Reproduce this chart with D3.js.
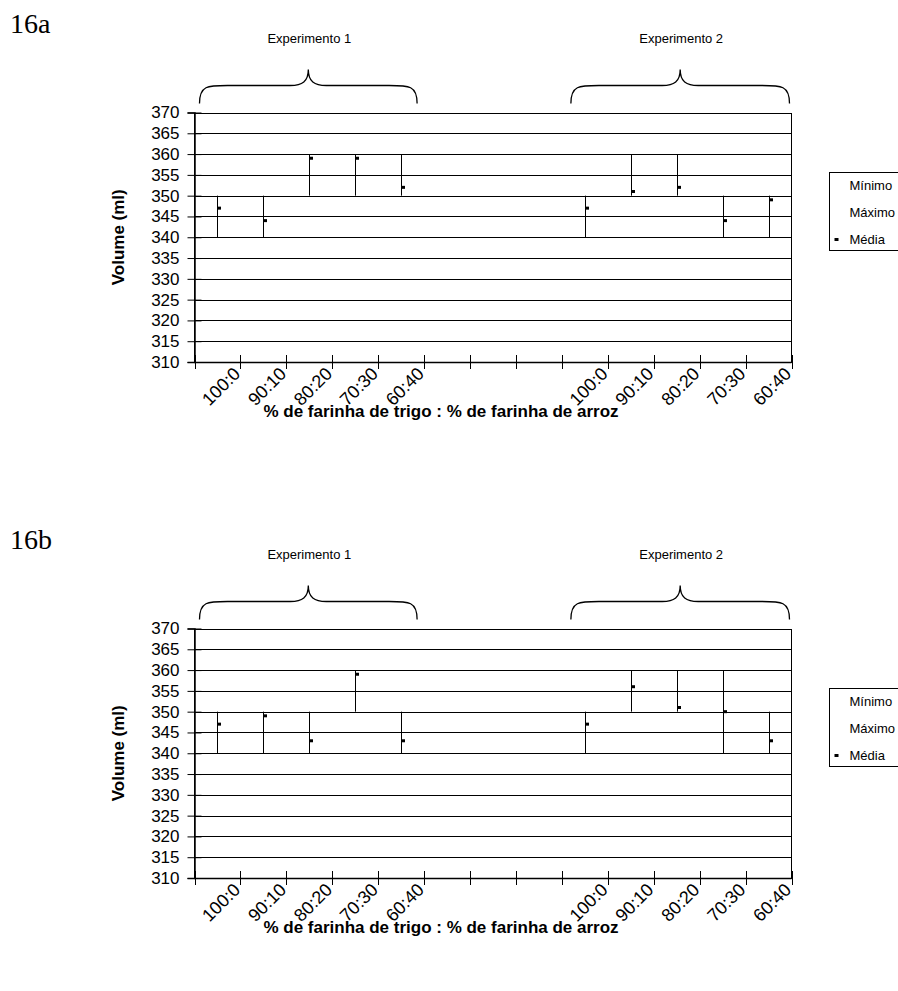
<!DOCTYPE html>
<html>
<head>
<meta charset="utf-8">
<script src="https://cdn.jsdelivr.net/npm/d3@7"></script>
<style>
  body { margin: 0; background: #fff; }
  svg { display: block; }
  text { font-family: "Liberation Sans", Arial, sans-serif; fill: #000; }
</style>
</head>
<body>
<svg id="chart" width="898" height="991"></svg>
<script>
// ---- data ----
const categories = ["100:0", "90:10", "80:20", "70:30", "60:40", "", "", "",
                    "100:0", "90:10", "80:20", "70:30", "60:40"];
const yTicks = [310, 315, 320, 325, 330, 335, 340, 345, 350, 355, 360, 365, 370];
const groups = ["Experimento 1", "Experimento 2"];
const legendLabels = ["Mínimo", "Máximo", "Média"];

const minA  = [340, 340, 350, 350, 350, null, null, null, 340, 350, 350, 340, 340];
const maxA  = [350, 350, 360, 360, 360, null, null, null, 350, 360, 360, 350, 350];
const meanA = [347, 344, 359, 359, 352, null, null, null, 347, 351, 352, 344, 349];

const minB  = [340, 340, 340, 350, 340, null, null, null, 340, 350, 350, 340, 340];
const maxB  = [350, 350, 350, 360, 350, null, null, null, 350, 360, 360, 360, 350];
const meanB = [347, 349, 343, 359, 343, null, null, null, 347, 356, 351, 350, 343];

const panels = [
  { name: "16a", min: minA, max: maxA, mean: meanA, top: 112.5 },
  { name: "16b", min: minB, max: maxB, mean: meanB, top: 628.5 }
];

// ---- drawing ----
const svg = d3.select("#chart");
svg.append("rect").attr("width", 898).attr("height", 991).attr("fill", "#fff");

const left = 194.5, right = 791.5, plotH = 249.5;
const idx = categories.map((d, i) => i);
const x = d3.scaleBand().domain(idx).range([left, right]).padding(0);

panels.forEach(p => {
  const g = svg.append("g");
  const y = d3.scaleLinear().domain([310, 370]).range([p.top + plotH, p.top]);
  const bottom = p.top + plotH;

  // panel tag
  g.append("text").attr("x", 10).attr("y", p.top - 80)
    .style("font-family", "'Liberation Serif', 'Times New Roman', serif")
    .style("font-size", "28px").text(p.name);

  // gridlines
  g.append("g").selectAll("line").data(yTicks).join("line")
    .attr("x1", left).attr("x2", right)
    .attr("y1", d => Math.round(y(d)) + 0.5).attr("y2", d => Math.round(y(d)) + 0.5)
    .attr("stroke", "#000").attr("stroke-width", 1);

  // plot border
  g.append("rect").attr("x", left).attr("y", Math.round(p.top) + 0.5)
    .attr("width", right - left).attr("height", Math.round(bottom) - Math.round(p.top))
    .attr("fill", "none").attr("stroke", "#000").attr("stroke-width", 1);

  // y axis
  const yAxis = d3.axisLeft(y).tickValues(yTicks).tickSize(7).tickPadding(7)
    .tickFormat(d3.format("d"));
  const ya = g.append("g").attr("transform", `translate(${left},0)`).call(yAxis);
  ya.select(".domain").attr("stroke", "#000").attr("stroke-width", 1.5);
  ya.selectAll(".tick line").attr("x2", -7).attr("x1", 7).attr("stroke", "#000");
  ya.selectAll(".tick text").style("font-family", "'Liberation Sans', Arial, sans-serif")
    .style("font-size", "17px").attr("fill", "#000").attr("x", -15);

  // x axis with boundary ticks
  const bounds = d3.range(categories.length + 1).map(i => left + i * x.bandwidth());
  g.append("line").attr("x1", left).attr("x2", right)
    .attr("y1", Math.round(bottom) + 0.5).attr("y2", Math.round(bottom) + 0.5)
    .attr("stroke", "#000").attr("stroke-width", 1.5);
  g.append("g").selectAll("line").data(bounds).join("line")
    .attr("x1", d => Math.round(d) + 0.5).attr("x2", d => Math.round(d) + 0.5)
    .attr("y1", bottom - 7).attr("y2", bottom + 7)
    .attr("stroke", "#000");

  // x tick labels
  g.append("g").selectAll("text").data(idx.filter(i => categories[i] !== "")).join("text")
    .attr("transform", i => `translate(${x(i) + x.bandwidth() / 2 + 15},${bottom + 4}) rotate(-45)`)
    .attr("text-anchor", "end").attr("dy", "0.7em")
    .style("font-size", "18px").text(i => categories[i]);

  // axis titles
  g.append("text").attr("transform", `translate(124,${p.top + plotH / 2}) rotate(-90)`)
    .attr("text-anchor", "middle").style("font-size", "17px").style("font-weight", "bold")
    .text("Volume (ml)");
  g.append("text").attr("x", 441).attr("y", bottom + 55).attr("text-anchor", "middle")
    .style("font-size", "17px").style("font-weight", "bold")
    .text("% de farinha de trigo : % de farinha de arroz");

  // hi-lo lines
  const valid = idx.filter(i => p.min[i] != null);
  g.append("g").selectAll("line").data(valid).join("line")
    .attr("x1", i => Math.round(x(i) + x.bandwidth() / 2) + 0.5)
    .attr("x2", i => Math.round(x(i) + x.bandwidth() / 2) + 0.5)
    .attr("y1", i => y(p.min[i])).attr("y2", i => y(p.max[i]))
    .attr("stroke", "#000").attr("stroke-width", 1);

  // mean markers
  g.append("g").selectAll("rect").data(valid).join("rect")
    .attr("x", i => Math.round(x(i) + x.bandwidth() / 2))
    .attr("y", i => y(p.mean[i]) - 1.5)
    .attr("width", 4).attr("height", 3).attr("fill", "#000");

  // group braces
  const spans = [
    [x(0) + 5, x(4) + x.bandwidth() - 7],
    [x(8) + 9, x(12) + x.bandwidth() - 2]
  ];
  spans.forEach((s, k) => {
    const [a, b] = s, m = (a + b) / 2;
    const yEnd = p.top - 9, yMid = p.top - 27, yTip = p.top - 43;
    const path = `M${a},${yEnd} C${a},${yMid} ${a + 8},${yMid} ${a + 28},${yMid}
      L${m - 18},${yMid} C${m - 6},${yMid} ${m},${yMid - 4} ${m},${yTip}
      C${m},${yMid - 4} ${m + 6},${yMid} ${m + 18},${yMid}
      L${b - 28},${yMid} C${b - 8},${yMid} ${b},${yMid} ${b},${yEnd}`;
    g.append("path").attr("d", path).attr("fill", "none").attr("stroke", "#000").attr("stroke-width", 1.3);
    g.append("text").attr("x", m + 1).attr("y", p.top - 70).attr("text-anchor", "middle")
      .style("font-size", "13px").text(groups[k]);
  });

  // legend
  const lg = g.append("g").attr("transform", `translate(829.5,${p.top + 60})`);
  lg.append("rect").attr("width", 90).attr("height", 78).attr("fill", "#fff")
    .attr("stroke", "#000").attr("stroke-width", 1);
  legendLabels.forEach((t, k) => {
    lg.append("text").attr("x", 20).attr("y", 13 + k * 27).attr("dy", "0.35em")
      .style("font-size", "13px").text(t);
  });
  lg.append("rect").attr("x", 5).attr("y", 13 + 2 * 27 - 1.5).attr("width", 4).attr("height", 3).attr("fill", "#000");
});
</script>
</body>
</html>
